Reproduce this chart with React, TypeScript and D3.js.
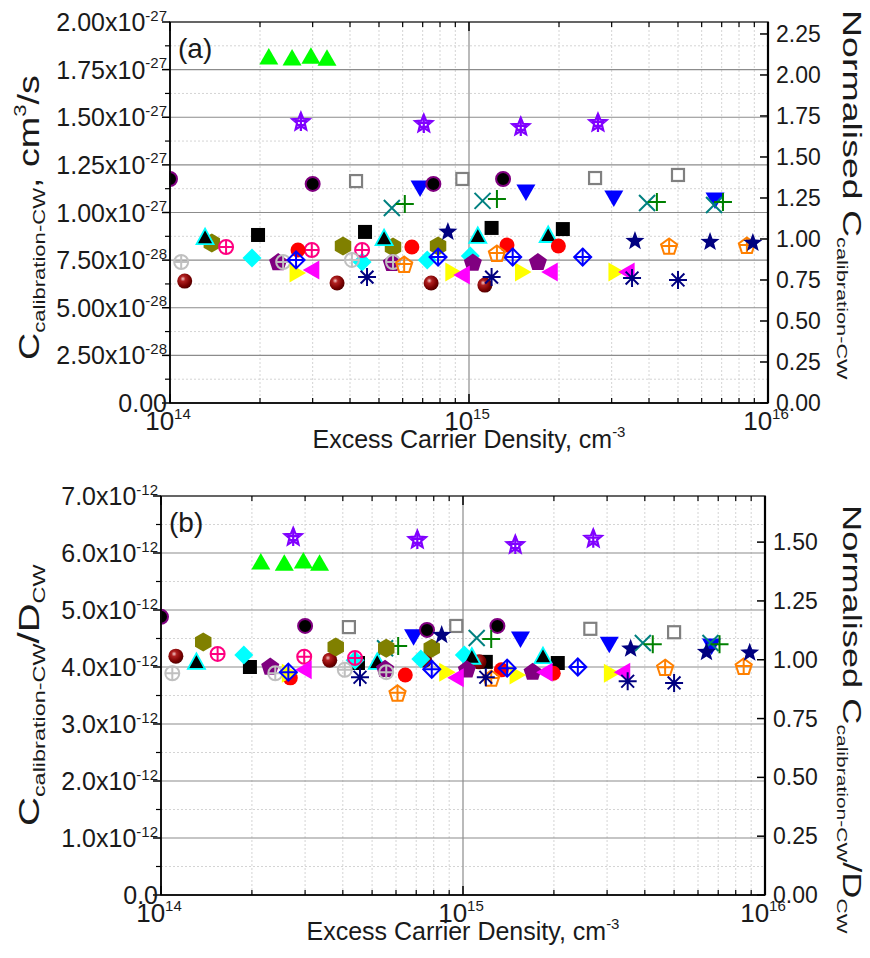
import React from 'react';
import * as d3 from 'd3';

const W = 870, H = 958;
const FONT = '"Liberation Sans", Arial, sans-serif';

// ---------- data (x: excess carrier density cm^-3, a: C panel a, b: C/D panel b) ----------
const xLime = [2.14e14, 2.56e14, 2.96e14, 3.35e14];
const aLime = [1.816e-27, 1.811e-27, 1.82e-27, 1.81e-27];
const bLime = [5.84e-12, 5.82e-12, 5.86e-12, 5.82e-12];

const xVioStar = [2.74e14, 7.06e14, 1.49e15, 2.7e15];
const aVioStar = [1.475e-27, 1.465e-27, 1.449e-27, 1.47e-27];
const bVioStar = [6.28e-12, 6.23e-12, 6.14e-12, 6.25e-12];

const xBlkCirc = [1.0e14, 3.0e14, 7.6e14, 1.3e15];
const aBlkCirc = [1.176e-27, 1.15e-27, 1.15e-27, 1.176e-27];
const bBlkCirc = [4.88e-12, 4.72e-12, 4.65e-12, 4.72e-12];

const xGraySq = [4.19e14, 9.5e14, 2.64e15, 5.0e15];
const aGraySq = [1.165e-27, 1.176e-27, 1.181e-27, 1.197e-27];
const bGraySq = [4.7e-12, 4.72e-12, 4.67e-12, 4.61e-12];

const xBlueDown = [6.86e14, 1.55e15, 3.05e15, 6.65e15];
const aBlueDown = [1.129e-27, 1.108e-27, 1.076e-27, 1.066e-27];
const bBlueDown = [4.53e-12, 4.49e-12, 4.4e-12, 4.37e-12];

const xTealX = [5.52e14, 1.11e15, 3.94e15, 6.6e15];
const aTealX = [1.024e-27, 1.061e-27, 1.05e-27, 1.039e-27];
const bTealX = [4.33e-12, 4.51e-12, 4.42e-12, 4.42e-12];

const xGreenPlus = [6.1e14, 1.24e15, 4.25e15, 7.07e15];
const aGreenPlus = [1.045e-27, 1.071e-27, 1.055e-27, 1.055e-27];
const bGreenPlus = [4.37e-12, 4.49e-12, 4.4e-12, 4.4e-12];

const xBlkSq = [1.97e14, 4.49e14, 1.19e15, 2.06e15];
const aBlkSq = [0.882e-27, 0.898e-27, 0.919e-27, 0.913e-27];
const bBlkSq = [4.0e-12, 4.07e-12, 4.09e-12, 4.07e-12];

const xMaroon = [1.12e14, 3.62e14, 7.47e14, 1.13e15];
const aMaroon = [0.64e-27, 0.63e-27, 0.63e-27, 0.619e-27];
const bMaroon = [4.19e-12, 4.12e-12, 4.12e-12, 4.09e-12];

const xOlive = [1.38e14, 3.79e14, 5.57e14, 7.88e14];
const aOlive = [0.84e-27, 0.824e-27, 0.819e-27, 0.824e-27];
const bOlive = [4.44e-12, 4.35e-12, 4.33e-12, 4.33e-12];

const xCyanDia = [1.88e14, 4.39e14, 7.25e14, 1.01e15];
const aCyanDia = [0.761e-27, 0.74e-27, 0.751e-27, 0.772e-27];
const bCyanDia = [4.21e-12, 4.12e-12, 4.14e-12, 4.21e-12];

const xBlkTri = [1.31e14, 5.2e14, 1.07e15, 1.84e15];
const aBlkTri = [0.871e-27, 0.866e-27, 0.877e-27, 0.882e-27];
const bBlkTri = [4.09e-12, 4.09e-12, 4.18e-12, 4.19e-12];

const xPinkCirc = [1.54e14, 2.98e14, 4.39e14];
const aPinkCirc = [0.819e-27, 0.803e-27, 0.803e-27];
const bPinkCirc = [4.23e-12, 4.18e-12, 4.16e-12];

const xRed = [2.68e14, 6.44e14, 1.34e15, 1.99e15];
const aRed = [0.803e-27, 0.819e-27, 0.829e-27, 0.824e-27];
const bRed = [3.81e-12, 3.86e-12, 3.95e-12, 3.89e-12];

const xPurPent = [2.3e14, 5.52e14, 1.03e15, 1.7e15];
const aPurPent = [0.737e-27, 0.733e-27, 0.735e-27, 0.738e-27];
const bPurPent = [4.0e-12, 3.96e-12, 3.95e-12, 3.91e-12];

const xSilver = [1.09e14, 2.39e14, 4.06e14, 5.57e14];
const aSilver = [0.74e-27, 0.74e-27, 0.751e-27, 0.74e-27];
const bSilver = [3.89e-12, 3.89e-12, 3.95e-12, 3.91e-12];

const xYellow = [2.66e14, 8.83e14, 1.51e15, 3.1e15];
const aYellow = [0.682e-27, 0.688e-27, 0.688e-27, 0.688e-27];
const bYellow = [3.89e-12, 3.91e-12, 3.86e-12, 3.89e-12];

const xMagenta = [2.98e14, 9.5e14, 1.87e15, 3.38e15];
const aMagenta = [0.698e-27, 0.672e-27, 0.688e-27, 0.688e-27];
const bMagenta = [3.95e-12, 3.81e-12, 3.91e-12, 3.91e-12];

const xBlueDia = [2.64e14, 7.88e14, 1.4e15, 2.4e15];
const aBlueDia = [0.751e-27, 0.766e-27, 0.766e-27, 0.766e-27];
const bBlueDia = [3.91e-12, 3.96e-12, 3.98e-12, 4.0e-12];

const xOrange = [6.07e14, 1.24e15, 4.67e15, 8.5e15];
const aOrange = [0.724e-27, 0.782e-27, 0.819e-27, 0.824e-27];
const bOrange = [3.53e-12, 3.79e-12, 3.98e-12, 4.0e-12];

const xAster = [4.56e14, 1.19e15, 3.51e15, 5.0e15];
const aAster = [0.661e-27, 0.661e-27, 0.656e-27, 0.646e-27];
const bAster = [3.82e-12, 3.82e-12, 3.75e-12, 3.72e-12];

const xNavyStar = [8.5e14, 3.59e15, 6.4e15, 8.9e15];
const aNavyStar = [0.898e-27, 0.85e-27, 0.845e-27, 0.84e-27];
const bNavyStar = [4.56e-12, 4.32e-12, 4.26e-12, 4.25e-12];

// tick values
const ticksA = [0, 0.25e-27, 0.5e-27, 0.75e-27, 1.0e-27, 1.25e-27, 1.5e-27, 1.75e-27, 2.0e-27];
const tickLabelsA = ['0.00', '2.50x10|-28', '5.00x10|-28', '7.50x10|-28', '1.00x10|-27', '1.25x10|-27', '1.50x10|-27', '1.75x10|-27', '2.00x10|-27'];
const ticksAR = [0, 0.25, 0.5, 0.75, 1.0, 1.25, 1.5, 1.75, 2.0, 2.25];
const ticksB = [0, 1e-12, 2e-12, 3e-12, 4e-12, 5e-12, 6e-12, 7e-12];
const tickLabelsB = ['0.0', '1.0x10|-12', '2.0x10|-12', '3.0x10|-12', '4.0x10|-12', '5.0x10|-12', '6.0x10|-12', '7.0x10|-12'];
const ticksBR = [0, 0.25, 0.5, 0.75, 1.0, 1.25, 1.5];
const decades = [1e14, 1e15, 1e16];
const decadeExp = ['14', '15', '16'];

type Sym = 'triUp' | 'triUpEdge' | 'triDown' | 'triRight' | 'triLeft' | 'square' | 'squareOpen' | 'circleEdge' | 'circle' | 'sphere' | 'diamond' | 'diamondPlus' | 'circlePlus' | 'pentagon' | 'pentagonPlus' | 'hexagon' | 'star' | 'starPlus' | 'x' | 'plus' | 'asterisk';

const SERIES: { x: number[]; a: number[]; b: number[]; sym: Sym; color: string }[] = [
  { x: xLime, a: aLime, b: bLime, sym: 'triUp', color: '#00ff00' },
  { x: xVioStar, a: aVioStar, b: bVioStar, sym: 'starPlus', color: '#8000ff' },
  { x: xGraySq, a: aGraySq, b: bGraySq, sym: 'squareOpen', color: '#808080' },
  { x: xBlueDown, a: aBlueDown, b: bBlueDown, sym: 'triDown', color: '#0000ff' },
  { x: xBlkCirc, a: aBlkCirc, b: bBlkCirc, sym: 'circleEdge', color: '#000000' },
  { x: xTealX, a: aTealX, b: bTealX, sym: 'x', color: '#008080' },
  { x: xGreenPlus, a: aGreenPlus, b: bGreenPlus, sym: 'plus', color: '#008000' },
  { x: xBlkSq, a: aBlkSq, b: bBlkSq, sym: 'square', color: '#000000' },
  { x: xMaroon, a: aMaroon, b: bMaroon, sym: 'sphere', color: '#800000' },
  { x: xOlive, a: aOlive, b: bOlive, sym: 'hexagon', color: '#808000' },
  { x: xCyanDia, a: aCyanDia, b: bCyanDia, sym: 'diamond', color: '#00ffff' },
  { x: xBlkTri, a: aBlkTri, b: bBlkTri, sym: 'triUpEdge', color: '#000000' },
  { x: xPinkCirc, a: aPinkCirc, b: bPinkCirc, sym: 'circlePlus', color: '#ff0080' },
  { x: xRed, a: aRed, b: bRed, sym: 'circle', color: '#ff0000' },
  { x: xPurPent, a: aPurPent, b: bPurPent, sym: 'pentagon', color: '#800080' },
  { x: xSilver, a: aSilver, b: bSilver, sym: 'circlePlus', color: '#c0c0c0' },
  { x: xYellow, a: aYellow, b: bYellow, sym: 'triRight', color: '#ffff00' },
  { x: xMagenta, a: aMagenta, b: bMagenta, sym: 'triLeft', color: '#ff00ff' },
  { x: xBlueDia, a: aBlueDia, b: bBlueDia, sym: 'diamondPlus', color: '#0000ff' },
  { x: xOrange, a: aOrange, b: bOrange, sym: 'pentagonPlus', color: '#ff8000' },
  { x: xAster, a: aAster, b: bAster, sym: 'asterisk', color: '#000080' },
  { x: xNavyStar, a: aNavyStar, b: bNavyStar, sym: 'star', color: '#000080' },
];

function poly(n: number, r: number, rot = -Math.PI / 2) {
  return d3.range(n).map((i) => {
    const t = rot + (i * 2 * Math.PI) / n;
    return [r * Math.cos(t), r * Math.sin(t)].map((v) => v.toFixed(2)).join(',');
  }).join(' ');
}
function starPts(ro: number, ri: number) {
  return d3.range(10).map((i) => {
    const r = i % 2 === 0 ? ro : ri;
    const t = -Math.PI / 2 + (i * Math.PI) / 5;
    return [r * Math.cos(t), r * Math.sin(t)].map((v) => v.toFixed(2)).join(',');
  }).join(' ');
}

function Marker({ sym, cx, cy, color }: { sym: Sym; cx: number; cy: number; color: string }) {
  let el: React.ReactNode = null;
  const sw = 2;
  switch (sym) {
    case 'triUp': el = <polygon points="-9.5,7.5 9.5,7.5 0,-9" fill={color} />; break;
    case 'triUpEdge': el = <polygon points="-8.5,7 8.5,7 0,-8.5" fill="#000" stroke="#00ffff" strokeWidth={1.8} />; break;
    case 'triDown': el = <polygon points="-9.5,-7.5 9.5,-7.5 0,9" fill={color} />; break;
    case 'triRight': el = <polygon points="-7.5,-9.5 -7.5,9.5 9,0" fill={color} />; break;
    case 'triLeft': el = <polygon points="7.5,-9.5 7.5,9.5 -9,0" fill={color} />; break;
    case 'square': el = <rect x={-7} y={-7} width={14} height={14} fill={color} />; break;
    case 'squareOpen': el = <rect x={-6} y={-6} width={12} height={12} fill="#fff" stroke={color} strokeWidth={2.2} />; break;
    case 'circleEdge': el = <circle r={7} fill="#000" stroke="#800080" strokeWidth={2} />; break;
    case 'circle': el = <circle r={7.5} fill={color} />; break;
    case 'sphere': el = <circle r={7.5} fill="url(#sphereGrad)" />; break;
    case 'diamond': el = <polygon points="0,-9.5 9.5,0 0,9.5 -9.5,0" fill={color} />; break;
    case 'diamondPlus': el = (<g fill="none" stroke={color} strokeWidth={sw}><polygon points="0,-8.5 8.5,0 0,8.5 -8.5,0" /><path d="M-8.5,0H8.5M0,-8.5V8.5" /></g>); break;
    case 'circlePlus': el = (<g fill="none" stroke={color} strokeWidth={sw}><circle r={7} /><path d="M-7,0H7M0,-7V7" /></g>); break;
    case 'pentagon': el = <polygon points={poly(5, 9.5)} fill={color} />; break;
    case 'pentagonPlus': el = (<g fill="none" stroke={color} strokeWidth={sw}><polygon points={poly(5, 8.5)} /><path d="M-8,-1H8M0,-8.5V7" /></g>); break;
    case 'hexagon': el = <polygon points={poly(6, 9.5)} fill={color} />; break;
    case 'star': el = <polygon points={starPts(10, 4.2)} fill={color} />; break;
    case 'starPlus': el = (<g fill="none" stroke={color} strokeWidth={2.2}><polygon points={starPts(9, 4)} /><path d="M-6,-1H6M0,-9V9M-4,3H4" /></g>); break;
    case 'x': el = <path d="M-8,-8L8,8M-8,8L8,-8" stroke={color} strokeWidth={sw} />; break;
    case 'plus': el = <path d="M-9,0H9M0,-9V9" stroke={color} strokeWidth={sw} />; break;
    case 'asterisk': el = <path d="M-9,0H9M0,-9V9M-6.4,-6.4L6.4,6.4M-6.4,6.4L6.4,-6.4" stroke={color} strokeWidth={sw} />; break;
  }
  return <g transform={`translate(${cx},${cy})`}>{el}</g>;
}

type Seg = { t: string; size: number; shift: number };
function Rich({ segs, anchor = 'start', x = 0, y = 0, transform }: { segs: Seg[]; anchor?: string; x?: number; y?: number; transform?: string }) {
  let cur = 0;
  return (
    <text x={x} y={y} textAnchor={anchor as any} transform={transform} fontFamily={FONT} fill="#1a1a1a">
      {segs.map((s, i) => {
        const dy = s.shift - cur;
        cur = s.shift;
        return <tspan key={i} fontSize={s.size} dy={dy}>{s.t}</tspan>;
      })}
    </text>
  );
}

function sciLabel(lbl: string, main: number, sup: number): Seg[] {
  const [m, e] = lbl.split('|');
  if (!e) return [{ t: m, size: main, shift: 0 }];
  return [{ t: m, size: main, shift: 0 }, { t: e, size: sup, shift: -main * 0.42 }];
}

type PanelCfg = {
  x0: number; x1: number; yBot: number; yTop: number;
  yMax: number; rMax: number; ticks: number[]; labels: string[];
  rTicks: number[]; key: 'a' | 'b'; tag: string;
};

function Panel({ cfg }: { cfg: PanelCfg }) {
  const x = d3.scaleLog().domain([1e14, 1e16]).range([cfg.x0, cfg.x1]);
  const y = d3.scaleLinear().domain([0, cfg.yMax]).range([cfg.yBot, cfg.yTop]);
  const yr = d3.scaleLinear().domain([0, cfg.rMax]).range([cfg.yBot, cfg.yTop]);
  const minorX: number[] = [];
  [1e14, 1e15].forEach((d) => { for (let k = 2; k <= 9; k++) minorX.push(d * k); });
  const step = cfg.ticks[1] - cfg.ticks[0];
  const minorY = cfg.ticks.slice(0, -1).map((t) => t + step / 2);
  const tickFont = 25;
  return (
    <g>
      {/* grid */}
      {minorX.map((v, i) => (
        <line key={'gx' + i} x1={x(v)} x2={x(v)} y1={cfg.yTop} y2={cfg.yBot} stroke="#d4d4d4" strokeWidth={1} strokeDasharray="2,2" />
      ))}
      {minorY.map((v, i) => (
        <line key={'gy' + i} x1={cfg.x0} x2={cfg.x1} y1={y(v)} y2={y(v)} stroke="#d4d4d4" strokeWidth={1} strokeDasharray="2,2" />
      ))}
      {cfg.ticks.slice(1, -1).map((v, i) => (
        <line key={'GY' + i} x1={cfg.x0} x2={cfg.x1} y1={y(v)} y2={y(v)} stroke="#8c8c8c" strokeWidth={1.2} />
      ))}
      <line x1={x(1e15)} x2={x(1e15)} y1={cfg.yTop} y2={cfg.yBot} stroke="#8c8c8c" strokeWidth={1.2} />

      {/* markers */}
      <g>
        {SERIES.map((s, si) =>
          s.x.map((xv, i) => (
            <Marker key={si + '-' + i} sym={s.sym} color={s.color} cx={x(xv)} cy={y(cfg.key === 'a' ? s.a[i] : s.b[i])} />
          ))
        )}
      </g>

      {/* mask left overflow */}
      <rect x={0} y={cfg.yTop - 12} width={cfg.x0 - 1} height={cfg.yBot - cfg.yTop + 24} fill="#fff" />

      {/* frame */}
      <rect x={cfg.x0} y={cfg.yTop} width={cfg.x1 - cfg.x0} height={cfg.yBot - cfg.yTop} fill="none" stroke="#333" strokeWidth={1.5} />
      <line x1={cfg.x0} x2={cfg.x0} y1={cfg.yTop} y2={cfg.yBot} stroke="#000" strokeWidth={1.6} />
      <line x1={cfg.x0} x2={cfg.x1} y1={cfg.yBot} y2={cfg.yBot} stroke="#000" strokeWidth={1.6} />
      <line x1={cfg.x1} x2={cfg.x1} y1={cfg.yTop} y2={cfg.yBot} stroke="#000" strokeWidth={2.2} />

      {/* x ticks bottom & top */}
      {decades.map((v, i) => (
        <g key={'xt' + i}>
          <line x1={x(v)} x2={x(v)} y1={cfg.yBot} y2={cfg.yBot - 9} stroke="#000" strokeWidth={1.5} />
          <line x1={x(v)} x2={x(v)} y1={cfg.yTop} y2={cfg.yTop + 9} stroke="#000" strokeWidth={1.5} />
          <Rich x={x(v) - 2} y={cfg.yBot + 27} anchor="middle" segs={[{ t: '10', size: 26, shift: 0 }, { t: decadeExp[i], size: 15, shift: -11 }]} />
        </g>
      ))}
      {minorX.map((v, i) => (
        <g key={'xm' + i}>
          <line x1={x(v)} x2={x(v)} y1={cfg.yBot} y2={cfg.yBot - 5} stroke="#000" strokeWidth={1.2} />
          <line x1={x(v)} x2={x(v)} y1={cfg.yTop} y2={cfg.yTop + 5} stroke="#000" strokeWidth={1.2} />
        </g>
      ))}

      {/* left ticks */}
      {cfg.ticks.map((v, i) => (
        <g key={'yl' + i}>
          <line x1={cfg.x0} x2={cfg.x0 - 8} y1={y(v)} y2={y(v)} stroke="#000" strokeWidth={1.5} />
          <Rich x={cfg.x0 - 3} y={y(v) + 9} anchor="end" segs={sciLabel(cfg.labels[i], tickFont, 15)} />
        </g>
      ))}
      {minorY.map((v, i) => (
        <line key={'ym' + i} x1={cfg.x0} x2={cfg.x0 - 5} y1={y(v)} y2={y(v)} stroke="#000" strokeWidth={1.2} />
      ))}

      {/* right ticks */}
      {cfg.rTicks.map((v, i) => (
        <g key={'yr' + i}>
          <line x1={cfg.x1} x2={cfg.x1 - 8} y1={yr(v)} y2={yr(v)} stroke="#000" strokeWidth={1.5} />
          <text x={cfg.x1 + 8} y={yr(v) + 8} fontSize={23} fontFamily={FONT} fill="#1a1a1a">{v.toFixed(2)}</text>
        </g>
      ))}

      {/* panel tag */}
      <text x={cfg.x0 + 8} y={cfg.yTop + 36} fontSize={28} fontFamily={FONT} fill="#1a1a1a">{cfg.tag}</text>

      {/* x title */}
      <Rich x={(cfg.x0 + cfg.x1) / 2} y={cfg.yBot + 45} anchor="middle"
        segs={[{ t: 'Excess Carrier Density, cm', size: 25, shift: 0 }, { t: '-3', size: 15, shift: -11 }]} />
    </g>
  );
}

export default function App() {
  const cfgA: PanelCfg = {
    x0: 170, x1: 768, yBot: 403, yTop: 22, yMax: 2.0e-27, rMax: 2.323,
    ticks: ticksA, labels: tickLabelsA, rTicks: ticksAR, key: 'a', tag: '(a)',
  };
  const cfgB: PanelCfg = {
    x0: 161, x1: 765, yBot: 895, yTop: 496, yMax: 7e-12, rMax: 1.696,
    ticks: ticksB, labels: tickLabelsB, rTicks: ticksBR, key: 'b', tag: '(b)',
  };
  return (
    <svg width={W} height={H} style={{ position: 'absolute', left: 0, top: 0, background: '#fff' }}>
      <defs>
        <radialGradient id="sphereGrad" cx="0.38" cy="0.35" r="0.7">
          <stop offset="0" stopColor="#f2c8c8" />
          <stop offset="0.25" stopColor="#b02020" />
          <stop offset="0.7" stopColor="#780000" />
          <stop offset="1" stopColor="#4a0000" />
        </radialGradient>
      </defs>
      <rect width={W} height={H} fill="#fff" />
      <Panel cfg={cfgA} />
      <Panel cfg={cfgB} />

      {/* left title (a) */}
      <Rich transform="translate(39,360) rotate(-90) scale(1.3,1)"
        segs={[{ t: 'C', size: 29, shift: 0 }, { t: 'calibration-CW', size: 17, shift: 6 }, { t: ', cm', size: 29, shift: 0 }, { t: '3', size: 17, shift: -13 }, { t: '/s', size: 29, shift: 0 }]} />
      {/* right title (a) */}
      <Rich transform="translate(843,10) rotate(90) scale(1.5,1)"
        segs={[{ t: 'Normalised C', size: 25, shift: 0 }, { t: 'calibration-CW', size: 14.5, shift: 6 }]} />

      {/* left title (b) */}
      <Rich transform="translate(39,826) rotate(-90) scale(1.38,1)"
        segs={[{ t: 'C', size: 29, shift: 0 }, { t: 'calibration-CW', size: 17, shift: 6 }, { t: '/D', size: 29, shift: 0 }, { t: 'CW', size: 17, shift: 6 }]} />
      {/* right title (b) */}
      <Rich transform="translate(843,505) rotate(90) scale(1.45,1)"
        segs={[{ t: 'Normalised C', size: 25, shift: 0 }, { t: 'calibration-CW', size: 14.5, shift: 6 }, { t: '/D', size: 25, shift: 0 }, { t: 'CW', size: 14.5, shift: 6 }]} />
    </svg>
  );
}
